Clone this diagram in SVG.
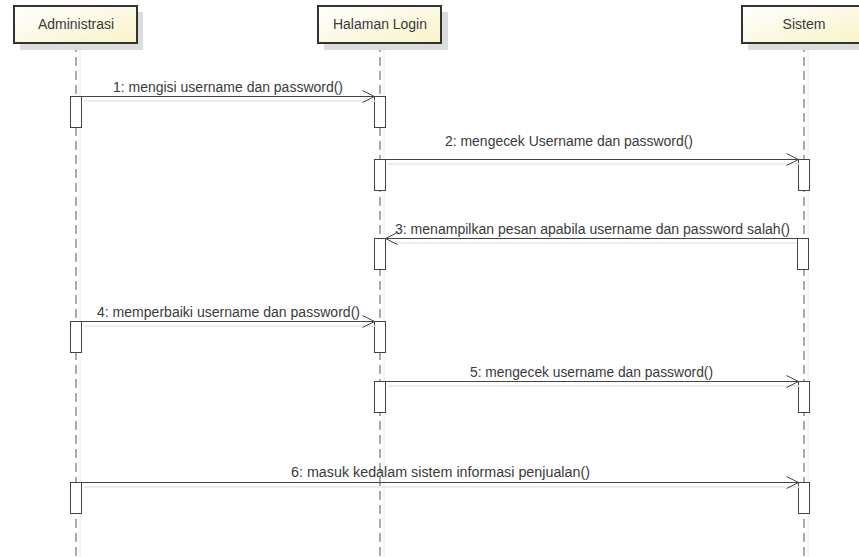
<svg xmlns="http://www.w3.org/2000/svg" width="859" height="557" viewBox="0 0 859 557">
<defs>
<linearGradient id="hd" x1="0" y1="0" x2="1" y2="1">
<stop offset="0" stop-color="#ffffff"/>
<stop offset="1" stop-color="#f7f3c8"/>
</linearGradient>
<marker id="arr" markerWidth="14" markerHeight="14" refX="13" refY="7" orient="auto" markerUnits="userSpaceOnUse">
<path d="M1,1 L13,7 L1,13" fill="none" stroke="#444" stroke-width="1"/>
</marker>
</defs>
<style>
text{font-family:"Liberation Sans",Arial,sans-serif;fill:#3a3a3a;}
.hdr{fill:url(#hd);stroke:#333;stroke-width:2;}
.shd{fill:#dcdcdc;}
.hn{font-size:14px;text-anchor:middle;}
.life{stroke:#555;stroke-width:1;stroke-dasharray:9,5;}
.lsh{stroke:#e8e8e8;stroke-width:1;}
.act{fill:#fff;stroke:#444;stroke-width:1;}
.msg{stroke:#444;stroke-width:1;fill:none;}
.msh{stroke:#e6e6e6;stroke-width:1.5;fill:none;}
.ml{font-size:14px;}
</style>
<rect width="859" height="557" fill="#fff"/>
<g id="lifelines">
<line class="lsh" x1="80" y1="49" x2="80" y2="557"/>
<line class="life" x1="76" y1="43" x2="76" y2="557"/>
<line class="lsh" x1="384" y1="49" x2="384" y2="557"/>
<line class="life" x1="380" y1="43" x2="380" y2="557"/>
<line class="lsh" x1="808" y1="49" x2="808" y2="557"/>
<line class="life" x1="804" y1="43" x2="804" y2="557"/>
</g>
<g id="administrasi">
<rect class="shd" x="20" y="12" width="123" height="38"/>
<rect class="hdr" x="14" y="6" width="123" height="37"/>
<text class="hn" x="76" y="29" textLength="76" lengthAdjust="spacingAndGlyphs">Administrasi</text>
</g>
<g id="halaman-login">
<rect class="shd" x="324" y="12" width="124" height="38"/>
<rect class="hdr" x="318" y="6" width="123" height="37"/>
<text class="hn" x="380" y="29" textLength="94" lengthAdjust="spacingAndGlyphs">Halaman Login</text>
</g>
<g id="sistem">
<rect class="shd" x="748" y="12" width="123" height="38"/>
<rect class="hdr" x="742" y="6" width="123" height="37"/>
<text class="hn" x="804" y="29" textLength="43" lengthAdjust="spacingAndGlyphs">Sistem</text>
</g>
<g id="activations">
<rect class="act" x="70.5" y="96.5" width="11" height="31"/>
<rect class="act" x="374.5" y="96.5" width="11" height="31"/>
<rect class="act" x="374.5" y="159.5" width="11" height="31"/>
<rect class="act" x="798.5" y="159.5" width="11" height="31"/>
<rect class="act" x="374.5" y="238.5" width="11" height="31"/>
<rect class="act" x="797.5" y="238.5" width="11" height="31"/>
<rect class="act" x="70.5" y="321.5" width="11" height="31"/>
<rect class="act" x="374.5" y="321.5" width="11" height="31"/>
<rect class="act" x="374.5" y="381.5" width="11" height="31"/>
<rect class="act" x="798.5" y="381.5" width="11" height="31"/>
<rect class="act" x="70.5" y="482.5" width="11" height="31"/>
<rect class="act" x="798.5" y="482.5" width="11" height="31"/>
</g>
<g id="connectors">
<line class="msh" x1="84" y1="101" x2="376" y2="101"/>
<line class="msg" x1="81.5" y1="96.5" x2="374.5" y2="96.5" marker-end="url(#arr)"/>
<text class="ml" x="113" y="92" textLength="230" lengthAdjust="spacingAndGlyphs">1: mengisi username dan password()</text>

<line class="msh" x1="388" y1="164" x2="800" y2="164"/>
<line class="msg" x1="385.5" y1="159.5" x2="798.5" y2="159.5" marker-end="url(#arr)"/>
<text class="ml" x="445" y="146" textLength="248" lengthAdjust="spacingAndGlyphs">2: mengecek Username dan password()</text>

<line class="msh" x1="388" y1="243" x2="796" y2="243"/>
<line class="msg" x1="797.5" y1="238.5" x2="385.5" y2="238.5" marker-end="url(#arr)"/>
<text class="ml" x="395" y="234" textLength="395" lengthAdjust="spacingAndGlyphs">3: menampilkan pesan apabila username dan password salah()</text>

<line class="msh" x1="84" y1="326" x2="376" y2="326"/>
<line class="msg" x1="81.5" y1="321.5" x2="374.5" y2="321.5" marker-end="url(#arr)"/>
<text class="ml" x="97" y="317" textLength="263" lengthAdjust="spacingAndGlyphs">4: memperbaiki username dan password()</text>

<line class="msh" x1="388" y1="386" x2="800" y2="386"/>
<line class="msg" x1="385.5" y1="381.5" x2="798.5" y2="381.5" marker-end="url(#arr)"/>
<text class="ml" x="470" y="377" textLength="243" lengthAdjust="spacingAndGlyphs">5: mengecek username dan password()</text>

<line class="msh" x1="84" y1="487" x2="800" y2="487"/>
<line class="msg" x1="81.5" y1="482.5" x2="798.5" y2="482.5" marker-end="url(#arr)"/>
<text class="ml" x="291" y="477" textLength="299" lengthAdjust="spacingAndGlyphs">6: masuk kedalam sistem informasi penjualan()</text>
</g>
</svg>
